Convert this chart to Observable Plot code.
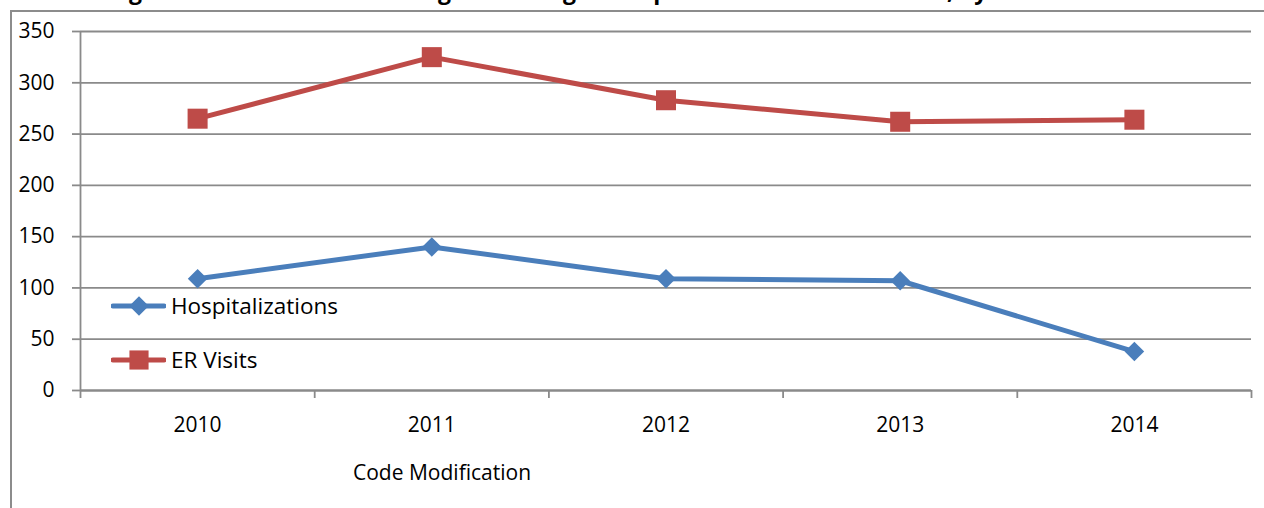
<!DOCTYPE html>
<html>
<head>
<meta charset="utf-8">
<script src="https://cdn.jsdelivr.net/npm/d3@7"></script>
<script src="https://cdn.jsdelivr.net/npm/@observablehq/plot@0.6"></script>
<style>
  html, body { margin: 0; padding: 0; background: #fff; }
  #wrap { position: relative; width: 1264px; height: 508px; overflow: hidden; font-family: "Open Sans", sans-serif; color: #000; }
  #frame { position: absolute; left: 10px; top: 10px; width: 1400px; height: 700px; border-left: 2px solid #8c8c8c; border-top: 2px solid #8c8c8c; }
  #title { position: absolute; left: 0; width: 1264px; top: -25px; text-align: center; font-weight: bold; font-size: 23px; line-height: 30px; white-space: nowrap; }
  #chart { position: absolute; left: 0; top: 0; }
  #xlabel { position: absolute; left: 353px; top: 458px; font-size: 21px; line-height: 28px; white-space: nowrap; }
  .leg { position: absolute; left: 111px; display: flex; align-items: center; font-size: 22.5px; white-space: nowrap; }
  .leg svg { display: block; margin-right: 5px; }
</style>
</head>
<body>
<div id="wrap">
  <div id="frame"></div>
  <div id="chart"></div>
  <div id="title"></div>
  <div id="xlabel"></div>
  <div id="legend"></div>
</div>
<script>
const titleText = "Figure 1: Accidental Poisonings Resulting in Hospitalizations and ER Visits, by Calendar Year";
const xAxisTitle = "Code Modification";
const years = [2010, 2011, 2012, 2013, 2014];
const hospitalizations = [109, 140, 109, 107, 38];
const erVisits = [265, 325, 283, 262, 264];
const seriesNames = ["Hospitalizations", "ER Visits"];
const seriesColors = ["#4A7EBB", "#BE4B48"];
const yTicks = [0, 50, 100, 150, 200, 250, 300, 350];

const rows = [];
years.forEach((y, i) => {
  rows.push({year: y, value: hospitalizations[i], series: seriesNames[0]});
  rows.push({year: y, value: erVisits[i], series: seriesNames[1]});
});
const hosp = rows.filter(d => d.series === seriesNames[0]);
const er = rows.filter(d => d.series === seriesNames[1]);
const boundaries = [...years.map(y => y - 0.5), years[years.length - 1] + 0.5];

const chart = Plot.plot({
  width: 1264,
  height: 508,
  marginLeft: 80,
  marginRight: 13,
  marginTop: 31,
  marginBottom: 118,
  style: {fontFamily: "'Open Sans', sans-serif", fontSize: "21px", color: "#000", background: "transparent", overflow: "visible"},
  x: {type: "linear", domain: [years[0] - 0.5, years[years.length - 1] + 0.5]},
  y: {domain: [0, 350]},
  marks: [
    Plot.gridY(yTicks, {stroke: "#8a8a8a", strokeOpacity: 1, strokeWidth: 1.8}),
    Plot.ruleY([0], {stroke: "#8a8a8a", strokeWidth: 1.8}),
    Plot.ruleX([boundaries[0]], {y1: 0, y2: 350, stroke: "#8a8a8a", strokeWidth: 1.8}),
    Plot.axisY({ticks: yTicks, tickSize: 8, tickPadding: 18, stroke: "#8a8a8a", strokeWidth: 1.8, label: null, fill: "#000", fontSize: 21}),
    Plot.axisX({ticks: boundaries, tickSize: 8, tickFormat: () => "", stroke: "#8a8a8a", strokeWidth: 1.8, label: null}),
    Plot.axisX({ticks: years, tickSize: 0, tickPadding: 27, tickFormat: d => String(d), label: null, fill: "#000", fontSize: 21}),
    Plot.line(er, {x: "year", y: "value", stroke: seriesColors[1], strokeWidth: 5, strokeLinejoin: "round"}),
    Plot.line(hosp, {x: "year", y: "value", stroke: seriesColors[0], strokeWidth: 5, strokeLinejoin: "round"}),
    Plot.dot(er, {x: "year", y: "value", symbol: "square", r: 11.3, fill: seriesColors[1], stroke: "none"}),
    Plot.dot(hosp, {x: "year", y: "value", symbol: "diamond2", r: 8.8, fill: seriesColors[0], stroke: "none"})
  ]
});
document.getElementById("chart").appendChild(chart);
document.getElementById("title").textContent = titleText;
document.getElementById("xlabel").textContent = xAxisTitle;

// Legend (HTML, inside the plot area)
const legend = document.getElementById("legend");
const legendTops = [290, 344];
seriesNames.forEach((name, i) => {
  const item = document.createElement("div");
  item.className = "leg";
  item.style.top = legendTops[i] + "px";
  const sw = d3.create("svg").attr("width", 55).attr("height", 30);
  sw.append("line").attr("x1", 2).attr("x2", 53).attr("y1", 15).attr("y2", 15)
    .attr("stroke", seriesColors[i]).attr("stroke-width", 5).attr("stroke-linecap", "round");
  const sym = i === 0 ? d3.symbolDiamond2 : d3.symbolSquare;
  const size = i === 0 ? Math.PI * 8.8 * 8.8 : Math.PI * 10.8 * 10.8;
  sw.append("path").attr("d", d3.symbol(sym, size)()).attr("transform", "translate(28,15)").attr("fill", seriesColors[i]);
  item.appendChild(sw.node());
  const t = document.createElement("span");
  t.textContent = name;
  item.appendChild(t);
  legend.appendChild(item);
});
</script>
</body>
</html>
